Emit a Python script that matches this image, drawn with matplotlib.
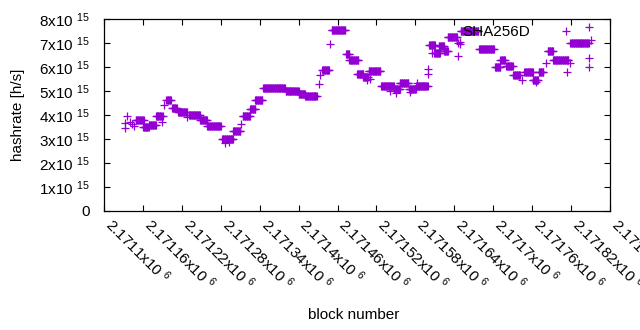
import numpy as np
import matplotlib
matplotlib.use("Agg")
import matplotlib.pyplot as plt

plt.rcParams['font.family'] = ['Liberation Sans', 'DejaVu Sans']
plt.rcParams['mathtext.fontset'] = 'custom'
plt.rcParams['mathtext.rm'] = 'Liberation Sans'
plt.rcParams['mathtext.it'] = 'Liberation Sans'

# Plateau runs of the hashrate estimate (value in units of 1e15 h/s)
run_start = [2171149, 2171160, 2171169, 2171180, 2171196, 2171205, 2171214, 2171231,
             2171248, 2171259, 2171282, 2171299, 2171314, 2171325, 2171333, 2171345,
             2171380, 2171400, 2171410, 2171436, 2171451, 2171473, 2171478, 2171490,
             2171500, 2171508, 2171527, 2171547, 2171556, 2171570, 2171581, 2171601,
             2171609, 2171616, 2171624, 2171630, 2171650, 2171678, 2171703, 2171711,
             2171720, 2171731, 2171748, 2171761, 2171770, 2171784, 2171792, 2171819]
run_end = [2171161, 2171169, 2171180, 2171189, 2171203, 2171212, 2171228, 2171248,
           2171259, 2171280, 2171299, 2171310, 2171325, 2171333, 2171344, 2171379,
           2171400, 2171410, 2171428, 2171447, 2171472, 2171478, 2171492, 2171500,
           2171507, 2171526, 2171547, 2171556, 2171569, 2171581, 2171599, 2171610,
           2171618, 2171624, 2171630, 2171644, 2171677, 2171701, 2171711, 2171718,
           2171730, 2171741, 2171761, 2171769, 2171777, 2171792, 2171816, 2171847]
run_value = [3.79, 3.50, 3.58, 3.96, 4.63, 4.28, 4.13, 3.99,
             3.79, 3.53, 2.98, 3.33, 3.95, 4.26, 4.63, 5.11,
             4.99, 4.86, 4.80, 5.86, 7.53, 6.53, 6.31, 5.70,
             5.58, 5.83, 5.20, 5.08, 5.32, 5.08, 5.20, 6.90,
             6.57, 6.87, 6.65, 7.23, 7.48, 6.76, 5.99, 6.30,
             6.06, 5.68, 5.79, 5.46, 5.79, 6.66, 6.31, 6.98]

# Isolated points
single_block = [2171132, 2171132, 2171136, 2171140, 2171143, 2171147,
                2171189, 2171191, 2171193, 2171228, 2171286, 2171293,
                2171311, 2171431, 2171433, 2171449, 2171506, 2171510,
                2171541, 2171550, 2171572, 2171582, 2171600, 2171600,
                2171605, 2171645, 2171645, 2171649, 2171649, 2171744,
                2171766, 2171781, 2171814, 2171818, 2171848, 2171851,
                2171848, 2171847]
single_value = [3.68, 3.47, 3.97, 3.72, 3.62, 3.54,
                3.70, 3.97, 4.40, 3.90, 2.85, 2.88,
                3.62, 5.28, 5.68, 6.95, 5.44, 5.49,
                5.00, 4.93, 4.97, 5.32, 5.92, 5.72,
                6.57, 6.99, 6.45, 7.05, 6.95, 5.44,
                5.38, 6.15, 5.78, 6.18, 7.66, 7.12,
                6.36, 6.01]

x_ticks = [2171100 + 60 * i for i in range(14)]
x_tick_labels = ["2.1711", "2.17116", "2.17122", "2.17128", "2.17134", "2.1714",
                 "2.17146", "2.17152", "2.17158", "2.17164", "2.1717", "2.17176",
                 "2.17182", "2.17188"]
y_ticks = [0, 1, 2, 3, 4, 5, 6, 7, 8]

blocks = []
values = []
for s, e, v in zip(run_start, run_end, run_value):
    for b in range(s, e + 1):
        blocks.append(b)
        values.append(v * 1e15)
for b, v in zip(single_block, single_value):
    blocks.append(b)
    values.append(v * 1e15)

FS = 11

fig = plt.figure(figsize=(6.4, 3.3), dpi=100)
ax = fig.add_axes([104 / 640, 1 - 211 / 330, 506 / 640, 192 / 330])

color = '#9400D3'
ax.plot(blocks, values, linestyle='none', marker='+', color=color,
        markersize=6.0, markeredgewidth=0.9, label='SHA256D')

ax.set_xlim(2171100, 2171880)
ax.set_ylim(0, 8e15)

ax.set_xticks(x_ticks)
ax.set_xticklabels([lab + r"x10 $^{6}$" for lab in x_tick_labels],
                   rotation=-45, ha='left', va='baseline', rotation_mode='anchor')
ax.set_yticks([t * 1e15 for t in y_ticks])
ax.set_yticklabels(["0" if t == 0 else f"{t}x10 " + r"$^{15}$" for t in y_ticks])

ax.tick_params(axis='both', direction='in', length=4, width=0.8,
               top=True, right=True, labelsize=FS, colors='black')
ax.tick_params(axis='y', pad=10)
ax.tick_params(axis='x', pad=11)
for sp in ax.spines.values():
    sp.set_linewidth(0.9)

fig.text(18 / 640, 1 - 115 / 330, 'hashrate [h/s]', rotation=90,
         ha='center', va='center', fontsize=FS)
fig.text(354 / 640, 1 - 315 / 330, 'block number', ha='center', va='center',
         fontsize=FS)

leg = ax.legend(loc='center right', bbox_to_anchor=(581 / 640, 1 - 32 / 330),
                bbox_transform=fig.transFigure, frameon=False, markerfirst=False,
                numpoints=1, fontsize=FS, borderpad=0, borderaxespad=0,
                handlelength=2.0, handletextpad=1.3)

fig.savefig('out.png', dpi=100)
